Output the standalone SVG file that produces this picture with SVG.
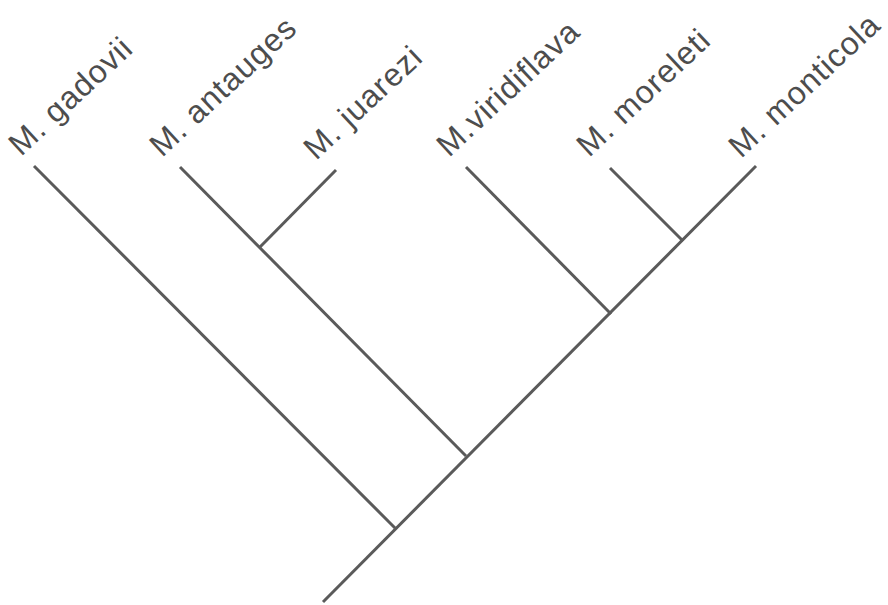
<svg xmlns="http://www.w3.org/2000/svg" width="888" height="605" viewBox="0 0 888 605">
<style>
.lbl{font-family:"Liberation Sans",Arial,sans-serif;font-size:32px;letter-spacing:1px;fill:#4d4d4d;}
.br{stroke:#5a5a5a;stroke-width:3;stroke-linecap:butt;fill:none;}
</style>
<rect width="888" height="605" fill="#ffffff"/>
<g id="connectors">
<line class="br" x1="323" y1="602" x2="756" y2="166"/>
<line class="br" x1="34" y1="166" x2="395" y2="528"/>
<line class="br" x1="180" y1="167" x2="466" y2="456"/>
<line class="br" x1="336" y1="170" x2="260" y2="247"/>
<line class="br" x1="466" y1="167" x2="611" y2="314"/>
<line class="br" x1="610" y1="168" x2="683" y2="241"/>
</g>
<g id="n-gadovii"><text class="lbl" transform="translate(21,157) rotate(-43)">M. gadovii</text></g>
<g id="n-antauges"><text class="lbl" transform="translate(162,158) rotate(-43)">M. antauges</text></g>
<g id="n-juarezi"><text class="lbl" transform="translate(316,161) rotate(-43)">M. juarezi</text></g>
<g id="n-viridiflava"><text class="lbl" transform="translate(449,158) rotate(-43)">M.viridiflava</text></g>
<g id="n-moreleti"><text class="lbl" transform="translate(589,158) rotate(-43)">M. moreleti</text></g>
<g id="n-monticola"><text class="lbl" transform="translate(741,159) rotate(-43)">M. monticola</text></g>
</svg>
